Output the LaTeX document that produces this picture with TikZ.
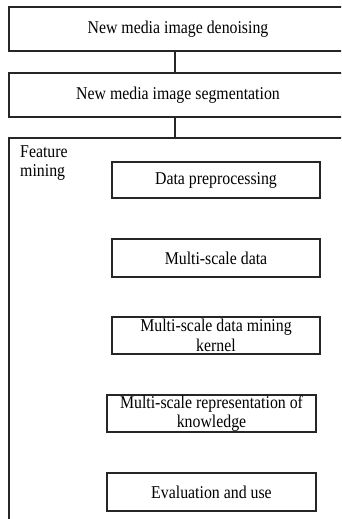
\documentclass[tikz,border=0pt]{standalone}
\usepackage{fontspec}
\setmainfont{Liberation Serif}[FakeStretch=0.88]
\begin{document}
\begin{tikzpicture}[x=1pt,y=-1pt,
  every node/.style={font=\fontsize{18}{19}\selectfont},
  frame/.style={draw=black!85, line width=1.2pt, inner sep=0pt, align=center},
  twoline/.style={font=\fontsize{18}{19.5}\selectfont},
  link/.style={draw=black!85, line width=1.2pt}]
\useasboundingbox (0,0) rectangle (341,519);
\clip (0,0) rectangle (341,519);
% outer boxes (right edge outside the page)
\node[frame, minimum width=338pt, minimum height=44pt] (den) at (178,29) {New media image denoising};
\node[frame, minimum width=338pt, minimum height=44pt] (seg) at (178,95) {New media image segmentation};
\node[frame, minimum width=338pt, minimum height=392pt] (feat) at (178,334) {};
\node[anchor=north west, align=left, inner sep=0pt, font=\fontsize{18}{19}\selectfont] (lbl) at (20,146) {Feature\\mining};
% inner boxes
\node[frame, minimum width=208pt, minimum height=36pt] (dp) at (216,180) {Data preprocessing};
\node[frame, minimum width=208pt, minimum height=38pt] (msd) at (216,258) {Multi-scale data};
\node[frame, twoline, minimum width=208pt, minimum height=37pt] (ker) at (216,335.5) {Multi-scale data mining\\kernel};
\node[frame, twoline, minimum width=209pt, minimum height=37pt] (rep) at (211.5,413.5) {Multi-scale representation of\\knowledge};
\node[frame, minimum width=209pt, minimum height=38pt] (eval) at (211.5,492) {Evaluation and use};
% connectors
\draw[link] ([xshift=-3pt]den.south) -- ([xshift=-3pt]seg.north);
\draw[link] ([xshift=-3pt]seg.south) -- ([xshift=-3pt]feat.north);
\end{tikzpicture}
\end{document}
